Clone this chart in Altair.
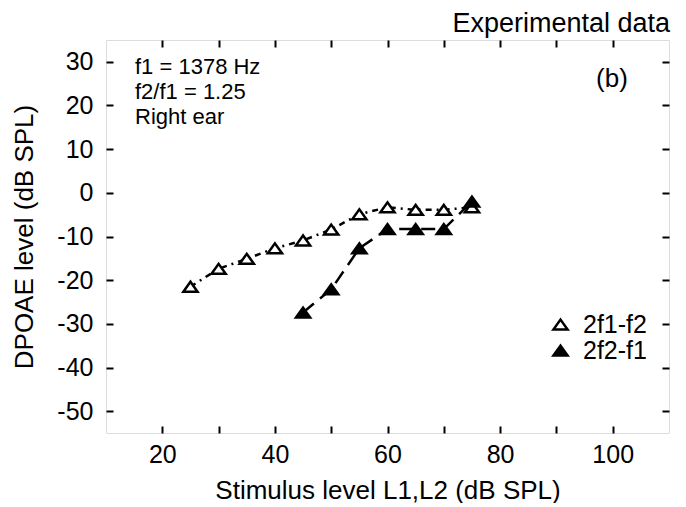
import altair as alt
import pandas as pd

# ---- data ----
levels_2f1f2 = [25, 30, 35, 40, 45, 50, 55, 60, 65, 70, 75]
dp_2f1f2 = [-21.5, -17.4, -15.1, -12.7, -10.9, -8.4, -4.9, -3.3, -3.9, -3.9, -3.3]
levels_2f2f1 = [45, 50, 55, 60, 65, 70, 75]
dp_2f2f1 = [-27.4, -22.1, -12.7, -8.3, -8.3, -8.3, -2.0]
series_names = ["2f1-f2", "2f2-f1"]
x_ticks = [20, 30, 40, 50, 60, 70, 80, 90, 100]
y_ticks = [-50, -40, -30, -20, -10, 0, 10, 20, 30]
annotation = "f1 = 1378 Hz\nf2/f1 = 1.25\nRight ear"
panel_label = "(b)"

df = pd.DataFrame(
    {
        "level": levels_2f1f2 + levels_2f2f1,
        "dp": dp_2f1f2 + dp_2f2f1,
        "series": [series_names[0]] * len(levels_2f1f2) + [series_names[1]] * len(levels_2f2f1),
    }
)

FONT = "Liberation Sans"
TRI = "M-1,0.7L1,0.7L0,-0.7Z"

xscale = alt.Scale(domain=[10, 110], nice=False, zero=False)
yscale = alt.Scale(domain=[-55, 35], nice=False, zero=False)

common_axis = dict(
    grid=False, domain=False, tickSize=7, offset=-7, tickColor="black", tickWidth=2,
    labelColor="black", labelFont=FONT, labelFontSize=25, titleFont=FONT,
    titleFontSize=26, titleFontWeight="normal", titleColor="black",
)

x_bottom = alt.Axis(values=x_ticks, labelPadding=9,
                    labelExpr="datum.value % 20 == 0 ? '' + datum.value : ''",
                    title="Stimulus level L1,L2 (dB SPL)", titlePadding=10, **common_axis)
y_left = alt.Axis(values=y_ticks, labelPadding=13, labelExpr="'' + datum.value",
                  title="DPOAE level (dB SPL)", titlePadding=19, **common_axis)
x_top = alt.Axis(orient="top", values=x_ticks, labels=False, title=None, **common_axis)
y_right = alt.Axis(orient="right", values=y_ticks, labels=False, title=None, **common_axis)

base = alt.Chart(df)

line_open = base.transform_filter(alt.datum.series == series_names[0]).mark_line(
    color="black", strokeWidth=2.5, strokeDash=[6, 5, 2, 5]
).encode(
    x=alt.X("level:Q", scale=xscale, axis=x_bottom),
    y=alt.Y("dp:Q", scale=yscale, axis=y_left),
)

line_filled = base.transform_filter(alt.datum.series == series_names[1]).mark_line(
    color="black", strokeWidth=2.5, strokeDash=[14, 8]
).encode(
    x=alt.X("level:Q", scale=xscale, axis=None),
    y=alt.Y("dp:Q", scale=yscale, axis=None),
)

points = base.mark_point(shape=TRI, size=200, filled=True, stroke="black", strokeWidth=2.5, opacity=1).encode(
    x=alt.X("level:Q", scale=xscale, axis=x_top),
    y=alt.Y("dp:Q", scale=yscale, axis=y_right),
    fill=alt.Fill(
        "series:N",
        scale=alt.Scale(domain=series_names, range=["white", "black"]),
        legend=alt.Legend(
            title=None, orient="none", legendX=442, legendY=272, padding=0,
            symbolType=TRI, symbolSize=200, symbolStrokeColor="black", symbolStrokeWidth=2.5,
            labelFont=FONT, labelFontSize=25, labelColor="black", labelOffset=10, rowPadding=0,
        ),
    ),
    order=alt.Order("series:N"),
)

notes = alt.Chart(pd.DataFrame({"t": [annotation]})).mark_text(
    align="left", baseline="alphabetic", font=FONT, fontSize=22, lineHeight=25, lineBreak="\n", color="black"
).encode(x=alt.value(29), y=alt.value(34), text="t:N")

plabel = alt.Chart(pd.DataFrame({"t": [panel_label]})).mark_text(
    align="center", baseline="alphabetic", font=FONT, fontSize=26, color="black"
).encode(x=alt.value(506), y=alt.value(47), text="t:N")

chart = (
    alt.layer(line_open, line_filled, points, notes, plabel)
    .resolve_axis(x="independent", y="independent")
    .properties(
        width=563, height=393,
        autosize=alt.AutoSizeParams(type="none"),
        padding={"left": 98, "top": 32, "right": 8, "bottom": 70},
        title=alt.Title("Experimental data", anchor="end", font=FONT, fontSize=27,
                        fontWeight="normal", color="black", offset=1),
    )
    .configure_view(stroke="black", strokeWidth=2.5)
    .configure(background="white")
)

chart.save("out.html", embed_options={"renderer": "svg", "actions": False})
